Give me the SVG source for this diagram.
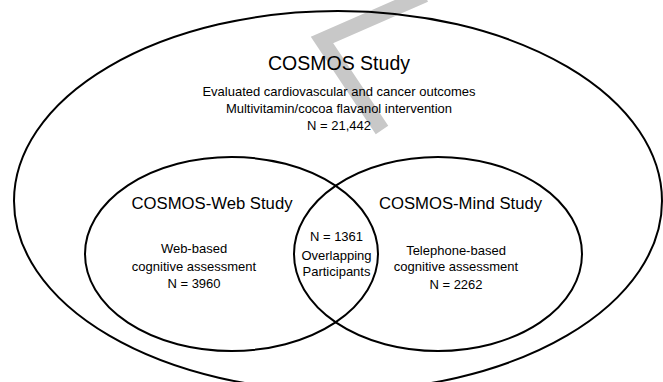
<svg xmlns="http://www.w3.org/2000/svg" width="663" height="382" viewBox="0 0 663 382">
<style>
.sh{fill:none;stroke:#000;stroke-width:2}
text{font-family:"Liberation Sans",Arial,sans-serif;fill:#000;text-anchor:middle}
.big{font-size:19.5px}
.mid{font-size:16.7px}
.sm{font-size:13px}
</style>
<rect width="663" height="382" fill="#fff"/>
<polyline points="425,-5 322,40 382,130" fill="none" stroke="#c8c8c8" stroke-width="15"/>
<g id="cosmos">
<ellipse class="sh" cx="338" cy="201" rx="324" ry="190"/>
<text class="big" x="339" y="70">COSMOS Study</text>
<text class="sm" x="339" y="95.5">Evaluated cardiovascular and cancer outcomes</text>
<text class="sm" x="339" y="113">Multivitamin/cocoa flavanol intervention</text>
<text class="sm" x="339" y="129.5">N = 21,442</text>
</g>
<g id="web">
<ellipse class="sh" cx="231.5" cy="254" rx="146.5" ry="97"/>
<text class="mid" x="212" y="208.5">COSMOS-Web Study</text>
<text class="sm" x="194" y="253">Web-based</text>
<text class="sm" x="194" y="270.5">cognitive assessment</text>
<text class="sm" x="194" y="288">N = 3960</text>
</g>
<g id="mind">
<ellipse class="sh" cx="438" cy="254" rx="144" ry="97"/>
<text class="mid" x="460.5" y="208.5">COSMOS-Mind Study</text>
<text class="sm" x="456" y="254.5">Telephone-based</text>
<text class="sm" x="456" y="271">cognitive assessment</text>
<text class="sm" x="456" y="288.5">N = 2262</text>
</g>
<g id="overlap">
<text class="sm" x="336.5" y="241">N = 1361</text>
<text class="sm" x="336.5" y="259.5">Overlapping</text>
<text class="sm" x="336.5" y="276">Participants</text>
</g>
<g id="connectors"></g>
</svg>
